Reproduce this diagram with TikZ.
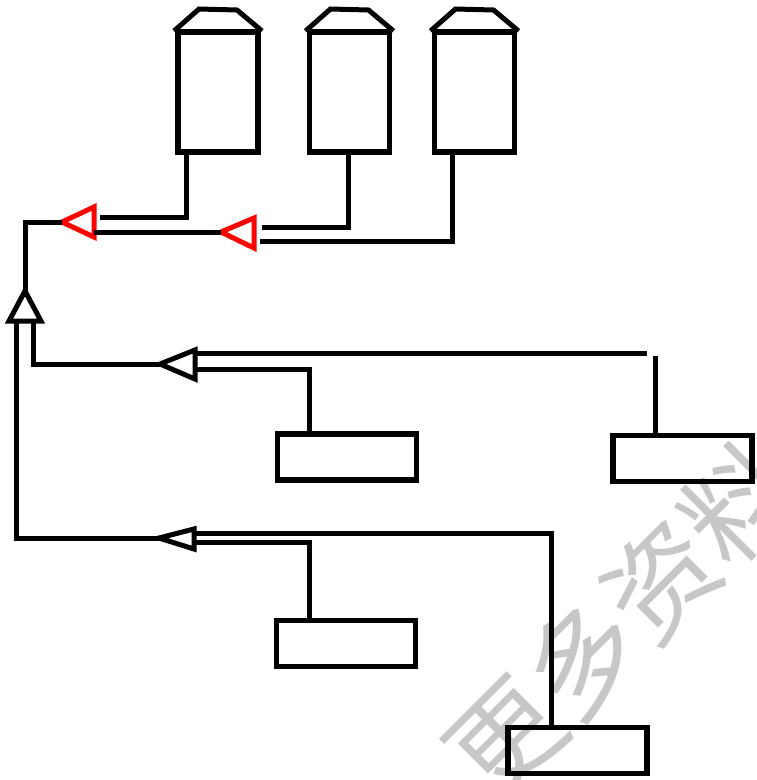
\documentclass[tikz,border=0pt]{standalone}
\usepackage{fontspec}
\newfontfamily\cjkfont{Noto Sans CJK SC}

\tikzset{
	bin/.style={draw,rectangle,minimum width=80pt,minimum height=120pt,inner sep=0pt,outer sep=0pt,line width=5.5pt},
	feeder/.style={draw,rectangle,minimum width=139pt,minimum height=46pt,inner sep=0pt,outer sep=0pt,line width=5.5pt},
	valve/.style={line width=5pt,line join=miter},
	redvalve/.style={valve,draw=red}
}

\begin{document}
\begin{tikzpicture}[x=1pt,y=-1pt,line width=5pt]
	\useasboundingbox (0,0) rectangle (757,780);
	% watermark
	\node[text=black!22,rotate=45,font=\cjkfont\fontsize{110}{110}\selectfont] (wm) at (622,620) {更多资料};
	% bins
	\node[bin] (bin1) at (218,92) {};
	\node[bin] (bin2) at (349.5,92) {};
	\node[bin] (bin3) at (474.5,92) {};
	\draw ([xshift=-4pt,yshift=1pt]bin1.north west) -- ++(25,-22) -- ([xshift=-21pt,yshift=22pt]bin1.north east) -- ([xshift=4pt,yshift=1pt]bin1.north east);
	\draw ([xshift=-4pt,yshift=1pt]bin2.north west) -- ++(25,-22) -- ([xshift=-21pt,yshift=22pt]bin2.north east) -- ([xshift=4pt,yshift=1pt]bin2.north east);
	\draw ([xshift=-4pt,yshift=1pt]bin3.north west) -- ++(25,-22) -- ([xshift=-21pt,yshift=22pt]bin3.north east) -- ([xshift=4pt,yshift=1pt]bin3.north east);
	% feeders
	\node[feeder] (fa) at (347,457) {};
	\node[feeder] (fb) at (682.5,458.5) {};
	\node[feeder] (fc) at (346,643.5) {};
	\node[feeder] (fd) at (577.5,750.5) {};
	% valves
	\draw[redvalve] (62,222) coordinate (r1) -- (94,207) -- (94,237) -- cycle;
	\draw[redvalve] (221,232) coordinate (r2) -- (254,218) -- (254,248) -- cycle;
	\draw[valve] (25,291) coordinate (w1) -- (41,321) -- (9,321) -- cycle;
	\draw[valve] (160,364) coordinate (wa) -- (195,350) -- (195,379) -- cycle;
	\draw[valve] (159,538) coordinate (wc) -- (194,529) -- (194,549) -- cycle;
	% lines
	\draw ([xshift=-32pt]bin1.south) |- (100,217);
	\draw ([xshift=-1.5pt]bin2.south) |- (262,227);
	\draw ([xshift=-22pt]bin3.south) |- (260,241);
	\draw (r1) -- (25,222) -- (w1);
	\draw (94,232) -- (r2);
	\draw (16,321) |- (wc);
	\draw (33,321) |- (wa);
	\draw (195,353) -- (647,353);
	\draw ([xshift=-27.5pt]fb.north) -- ++(0,-80);
	\draw (195,369) -| ([xshift=-38pt]fa.north);
	\draw (194,533) -| ([xshift=-26.5pt]fd.north);
	\draw (194,542) -| ([xshift=-37pt]fc.north);
\end{tikzpicture}
\end{document}
